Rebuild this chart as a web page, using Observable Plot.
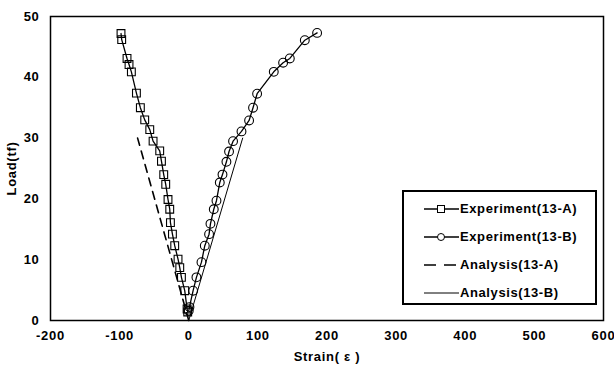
<!DOCTYPE html>
<html>
<head>
<meta charset="utf-8">
<script src="https://cdn.jsdelivr.net/npm/d3@7"></script>
<script src="https://cdn.jsdelivr.net/npm/@observablehq/plot@0.6"></script>
<style>
  body { margin: 0; background: #fff; }
  #wrap { position: relative; width: 614px; height: 365px; font-family: "Liberation Sans", Arial, sans-serif; font-weight: bold; }
  #wrap svg text { letter-spacing: 0.7px; }
  #legend { position: absolute; left: 402px; top: 190px; width: 195px; height: 115px; box-sizing: border-box; border: 2px solid #000; background: #fff; }
  .row { position: absolute; left: 0; height: 14px; }
  .row svg { position: absolute; left: 18px; top: 0; }
  .row span { position: absolute; left: 56px; top: -1px; font-size: 13px; white-space: nowrap; letter-spacing: 0.6px; }
</style>
</head>
<body>
<div id="wrap"></div>
<script>
// Experiment (13-A): strain, load
const expAStrain = [-1.5, -2.4, -5.8, -10.6, -13, -15.5, -20.3, -23.6, -26.5, -27.5, -30, -33.3, -36.2, -39.5, -42, -51.6, -56.4, -63.7, -70, -75.7, -83, -86.4, -89.3, -97, -98];
const expALoad   = [1.4, 1.9, 4.9, 7.1, 8.7, 10.1, 12.3, 14.2, 16.1, 18.3, 19.9, 22.4, 24, 26.2, 27.9, 29.5, 31.4, 33, 35, 37.4, 40.9, 42.1, 43.1, 46.2, 47.2];
// Experiment (13-B)
const expBStrain = [0, 1, 6.3, 11.1, 18.4, 23.2, 29.4, 31.4, 36.2, 40.1, 44.9, 48.8, 54.5, 58.3, 64.1, 76.3, 87.3, 93, 98.9, 123, 136.5, 146.2, 167.9, 185.7];
const expBLoad   = [1.6, 2.2, 4.9, 7.1, 9.6, 12.3, 14.2, 15.9, 18.3, 19.7, 22.7, 24, 26.1, 27.8, 29.5, 31.1, 32.9, 35, 37.3, 40.9, 42.4, 43.1, 46.1, 47.3];
// Analysis (13-A)
const anaAStrain = [0, -74];
const anaALoad   = [0, 30];
// Analysis (13-B)
const anaBStrain = [0, 78];
const anaBLoad   = [0, 30];

const xTicks = [-200, -100, 0, 100, 200, 300, 400, 500, 600];
const yTicks = [0, 10, 20, 30, 40, 50];

const series = [
  {name: "Experiment(13-A)", xs: expAStrain, ys: expALoad},
  {name: "Experiment(13-B)", xs: expBStrain, ys: expBLoad},
  {name: "Analysis(13-A)", xs: anaAStrain, ys: anaALoad},
  {name: "Analysis(13-B)", xs: anaBStrain, ys: anaBLoad}
];
const tbl = series.map(s => s.xs.map((x, i) => ({strain: x, load: s.ys[i]})));

const chart = Plot.plot({
  width: 614,
  height: 365,
  marginLeft: 50,
  marginRight: 11,
  marginTop: 16,
  marginBottom: 45,
  style: {fontFamily: "Liberation Sans, Arial, sans-serif", fontWeight: "bold", fontSize: "13px", color: "#000", background: "#fff"},
  x: {domain: [-200, 600], ticks: xTicks, tickFormat: d => String(d), tickSize: 0, tickPadding: 10,
      label: "Strain( ε )", labelAnchor: "center", labelArrow: "none", labelOffset: 40},
  y: {domain: [0, 50], ticks: yTicks, tickFormat: d => String(d), tickSize: 0, tickPadding: 11,
      label: "Load(tf)", labelAnchor: "center", labelArrow: "none", labelOffset: 44},
  marks: [
    Plot.frame({stroke: "#000", strokeWidth: 1.5}),
    Plot.line(tbl[2], {x: "strain", y: "load", stroke: "#000", strokeWidth: 1.6, strokeDasharray: "8,6"}),
    Plot.line(tbl[3], {x: "strain", y: "load", stroke: "#000", strokeWidth: 1}),
    Plot.line(tbl[0], {x: "strain", y: "load", stroke: "#000", strokeWidth: 1.3}),
    Plot.line(tbl[1], {x: "strain", y: "load", stroke: "#000", strokeWidth: 1.3}),
    Plot.dot(tbl[0], {x: "strain", y: "load", symbol: "square", r: 4.4, stroke: "#000", fill: "none", strokeWidth: 1.1}),
    Plot.dot(tbl[1], {x: "strain", y: "load", symbol: "circle", r: 4.4, stroke: "#000", fill: "none", strokeWidth: 1.1})
  ]
});

const wrap = document.getElementById("wrap");
wrap.appendChild(chart);

// Legend
const legend = document.createElement("div");
legend.id = "legend";
const rowTops = [10, 38, 66, 94];
const samples = [
  '<line x1="2" y1="7" x2="37" y2="7" stroke="#000" stroke-width="1.3"/><rect x="15.5" y="3.5" width="7" height="7" fill="#fff" stroke="#000" stroke-width="1"/>',
  '<line x1="2" y1="7" x2="37" y2="7" stroke="#000" stroke-width="1.3"/><circle cx="19" cy="7" r="3.5" fill="#fff" stroke="#000" stroke-width="1"/>',
  '<line x1="2" y1="7" x2="37" y2="7" stroke="#000" stroke-width="1.6" stroke-dasharray="12,8"/>',
  '<line x1="2" y1="7" x2="37" y2="7" stroke="#000" stroke-width="1"/>'
];
series.forEach((s, i) => {
  const row = document.createElement("div");
  row.className = "row";
  row.style.top = rowTops[i] + "px";
  row.innerHTML = '<svg width="38" height="14">' + samples[i] + '</svg><span>' + s.name + '</span>';
  legend.appendChild(row);
});
wrap.appendChild(legend);
</script>
</body>
</html>
